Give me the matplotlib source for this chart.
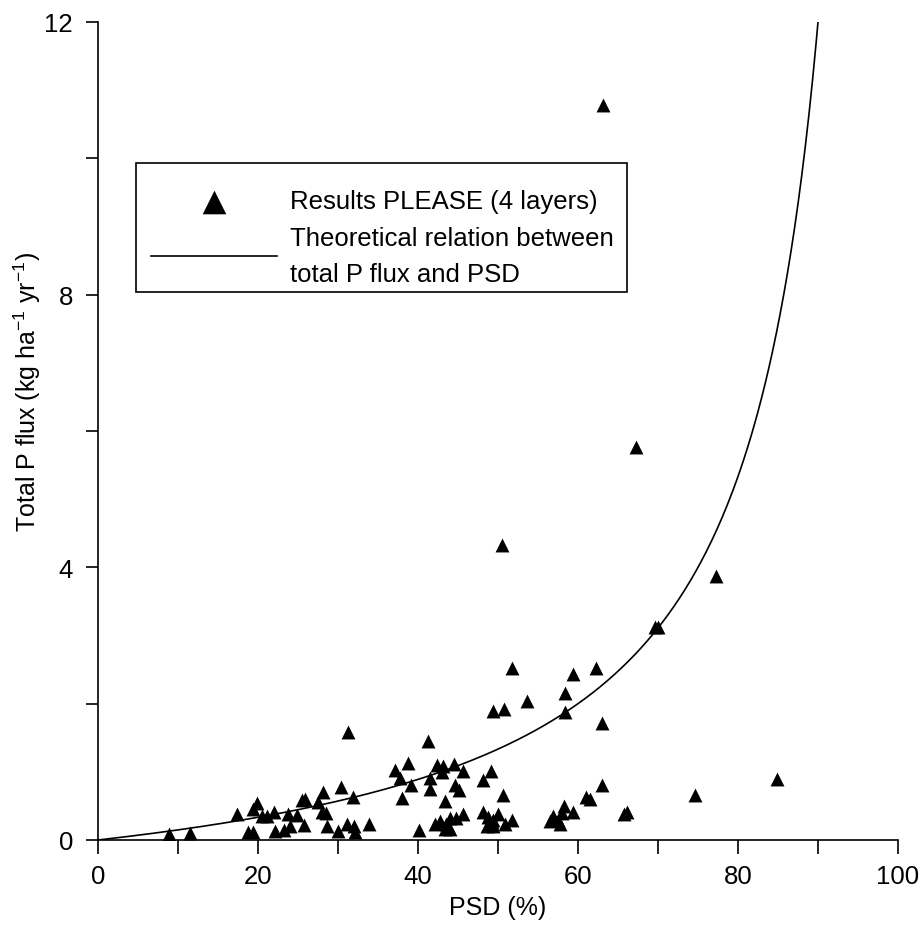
import numpy as np
import matplotlib
matplotlib.use("Agg")
import matplotlib.pyplot as plt
from matplotlib.patches import Rectangle

plt.rcParams['font.family'] = ['Liberation Sans', 'DejaVu Sans']

# Measured results (PSD %, total P flux kg/ha/yr)
psd = [8.9, 11.5, 17.4, 18.8, 19.4, 19.9, 19.4, 20.5, 21.1, 22.0, 22.1, 23.2, 23.8, 24.0,
       24.9, 25.5, 25.9, 25.8, 27.5, 28.1, 28.0, 28.5, 28.6,
       31.3, 41.3, 30.4, 31.9, 30.0, 31.1, 32.0, 32.1, 33.9, 37.1, 38.8, 37.8, 38.0, 39.1,
       40.1, 42.4, 43.1, 44.5, 41.5, 43.0, 45.6, 41.5, 44.6, 45.1, 43.4, 42.1, 42.8, 43.5,
       44.0, 44.75, 45.6, 43.4, 44.0, 48.1, 49.1, 48.1, 48.7, 49.2, 48.6,
       50.6, 50.0, 49.4, 50.9, 51.7, 49.4, 63.0, 61.0, 61.5, 66.1, 65.8, 56.9, 58.25, 59.4,
       57.5, 57.75, 56.5, 58.0,
       50.5, 51.75, 59.4, 62.25, 53.6, 58.4, 49.4, 50.75, 58.4, 63.0, 69.6, 70.0,
       63.1, 67.25, 77.25, 84.9, 74.6]
flux = [0.09, 0.10, 0.38, 0.12, 0.12, 0.55, 0.45, 0.35, 0.35, 0.41, 0.13, 0.15, 0.38, 0.20,
        0.37, 0.59, 0.60, 0.22, 0.56, 0.70, 0.41, 0.40, 0.20,
        1.58, 1.45, 0.78, 0.63, 0.13, 0.23, 0.20, 0.12, 0.23, 1.03, 1.13, 0.91, 0.62, 0.80,
        0.15, 1.10, 1.08, 1.11, 0.91, 1.00, 1.01, 0.75, 0.80, 0.73, 0.57, 0.23, 0.28, 0.23,
        0.32, 0.32, 0.38, 0.16, 0.16, 0.88, 1.01, 0.41, 0.34, 0.26, 0.20,
        0.66, 0.38, 0.30, 0.23, 0.29, 0.20, 0.80, 0.63, 0.60, 0.41, 0.38, 0.35, 0.50, 0.41,
        0.30, 0.23, 0.28, 0.40,
        4.33, 2.52, 2.43, 2.52, 2.04, 2.16, 1.89, 1.92, 1.88, 1.72, 3.12, 3.12,
        10.78, 5.76, 3.87, 0.90, 0.66]

# Theoretical relation: flux = A * PSD / (100 - PSD)
A_coef = 4.0 / 3.0
psd_max = 90.0

W, H = 922, 929
fig = plt.figure(figsize=(W / 100, H / 100), dpi=100)
ax = fig.add_axes([98/W, 1 - 841/H, 800/W, 818/H])

xc = np.linspace(0, psd_max, 400)
yc = A_coef * xc / (100 - xc)
ax.scatter(psd, flux, marker='^', s=100, color='black', zorder=3,
           label='Results PLEASE (4 layers)', linewidths=0)
ax.plot(xc, yc, color='black', lw=1.2, zorder=2,
        label='Theoretical relation between\ntotal P flux and PSD')

ax.set_xlim(0, 100)
ax.set_ylim(0, 12)
ax.set_xticks([0, 20, 40, 60, 80, 100])
ax.set_xticks(np.arange(0, 101, 10), minor=True)
ax.set_yticks([0, 4, 8, 12])
ax.set_yticks(np.arange(0, 13, 2), minor=True)
for s in ['top', 'right']:
    ax.spines[s].set_visible(False)
for s in ['left', 'bottom']:
    ax.spines[s].set_linewidth(1.2)
ax.tick_params(axis='x', which='both', direction='out', length=10, width=1.2, labelsize=18.5, pad=7)
ax.tick_params(axis='y', which='both', direction='out', length=9, width=1.2, labelsize=18.5, pad=9)

ax.set_xlabel('PSD (%)', fontsize=18)
ax.set_ylabel(r'Total P flux (kg ha$^{\mathregular{-1}}$ yr$^{\mathregular{-1}}$)', fontsize=18)
ax.xaxis.set_label_coords(0.5, -0.067)
ax.yaxis.set_label_coords(-0.069, 0.549)

# legend frame drawn as a separate box
box_l, box_r, box_t, box_b = 136, 627, 164, 293
fig.add_artist(Rectangle((box_l / W, 1 - box_b / H), (box_r - box_l) / W, (box_b - box_t) / H,
                         transform=fig.transFigure, fill=False, edgecolor='black',
                         linewidth=1.2, zorder=4))

leg = ax.legend(loc='upper left', bbox_to_anchor=(box_l / W, 1 - (box_t + 11) / H),
                bbox_transform=fig.transFigure, borderaxespad=0,
                frameon=False, fontsize=18.5,
                handlelength=4.9, handletextpad=0.5, borderpad=0.6, labelspacing=0.5,
                scatterpoints=1, markerscale=1.7)
for t in leg.get_texts():
    t.set_linespacing(1.6)

fig.savefig('out.png', dpi=100)
